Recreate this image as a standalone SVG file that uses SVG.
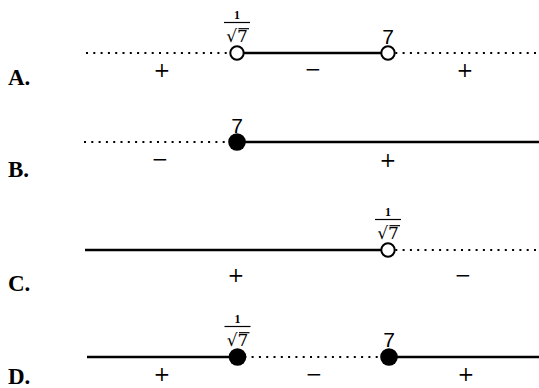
<svg xmlns="http://www.w3.org/2000/svg" width="539" height="388" viewBox="0 0 539 388">
<style>
.solid{stroke:#000;stroke-width:2.4;fill:none}
.dot{stroke:#000;stroke-width:2;stroke-dasharray:2 5.3;fill:none}
.open{fill:#fff;stroke:#000;stroke-width:2}
.full{fill:#000}
.sign{font-family:"DejaVu Serif",serif;font-size:20px;text-anchor:middle;fill:#000}
.lab{font-family:"Liberation Serif",serif;font-size:23px;font-weight:bold;fill:#000}
.num{font-family:"Liberation Sans",sans-serif;font-size:21px;text-anchor:middle;fill:#000}
.one{font-family:"Liberation Serif",serif;font-size:12px;font-weight:bold;text-anchor:middle;fill:#000}
.rad{font-family:"DejaVu Serif",serif;font-size:17px;text-anchor:middle;fill:#000}
.bar{stroke:#000;stroke-width:1.2}
</style>
<defs>
<g id="frac">
<text class="one" x="0" y="-34">1</text>
<line class="bar" x1="-13" y1="-30.5" x2="13" y2="-30.5"/>
<text class="rad" x="0" y="-11">√7</text>
<line class="bar" x1="1.5" y1="-24.3" x2="12" y2="-24.3"/>
</g>
</defs>
<g id="connectors">
<line class="dot" x1="86" y1="53" x2="237" y2="53"/>
<line class="solid" x1="237" y1="53" x2="388" y2="53"/>
<line class="dot" x1="388" y1="53" x2="539" y2="53"/>
<line class="dot" x1="84" y1="142" x2="237" y2="142"/>
<line class="solid" x1="237" y1="142" x2="539" y2="142"/>
<line class="solid" x1="85" y1="250" x2="388" y2="250"/>
<line class="dot" x1="388" y1="250" x2="539" y2="250"/>
<line class="solid" x1="87" y1="357" x2="237" y2="357"/>
<line class="dot" x1="237" y1="357" x2="389" y2="357"/>
<line class="solid" x1="389" y1="357" x2="539" y2="357"/>
</g>
<g id="rowA">
<text class="lab" x="8" y="85">A.</text>
<g id="A-p1"><use href="#frac" x="237" y="53"/><circle class="open" cx="237" cy="53" r="6.7"/></g>
<g id="A-p2"><text class="num" x="388" y="44">7</text><circle class="open" cx="388" cy="53" r="6.7"/></g>
<text class="sign" x="162" y="77">+</text>
<text class="sign" x="313" y="76">−</text>
<text class="sign" x="465" y="77">+</text>
</g>
<g id="rowB">
<text class="lab" x="8" y="177">B.</text>
<g id="B-p1"><text class="num" x="237" y="133">7</text><circle class="full" cx="237" cy="142" r="8.8"/></g>
<text class="sign" x="160" y="165.5">−</text>
<text class="sign" x="388" y="166.5">+</text>
</g>
<g id="rowC">
<text class="lab" x="8" y="291">C.</text>
<g id="C-p1"><use href="#frac" x="388" y="250"/><circle class="open" cx="388" cy="250" r="6.7"/></g>
<text class="sign" x="236" y="282">+</text>
<text class="sign" x="463" y="281.5">−</text>
</g>
<g id="rowD">
<text class="lab" x="8" y="384">D.</text>
<g id="D-p1"><use href="#frac" x="237.5" y="357"/><circle class="full" cx="237.5" cy="357" r="8.8"/></g>
<g id="D-p2"><text class="num" x="389" y="347">7</text><circle class="full" cx="389" cy="357" r="8.8"/></g>
<text class="sign" x="162" y="381">+</text>
<text class="sign" x="314" y="380.5">−</text>
<text class="sign" x="466" y="381">+</text>
</g>
</svg>
